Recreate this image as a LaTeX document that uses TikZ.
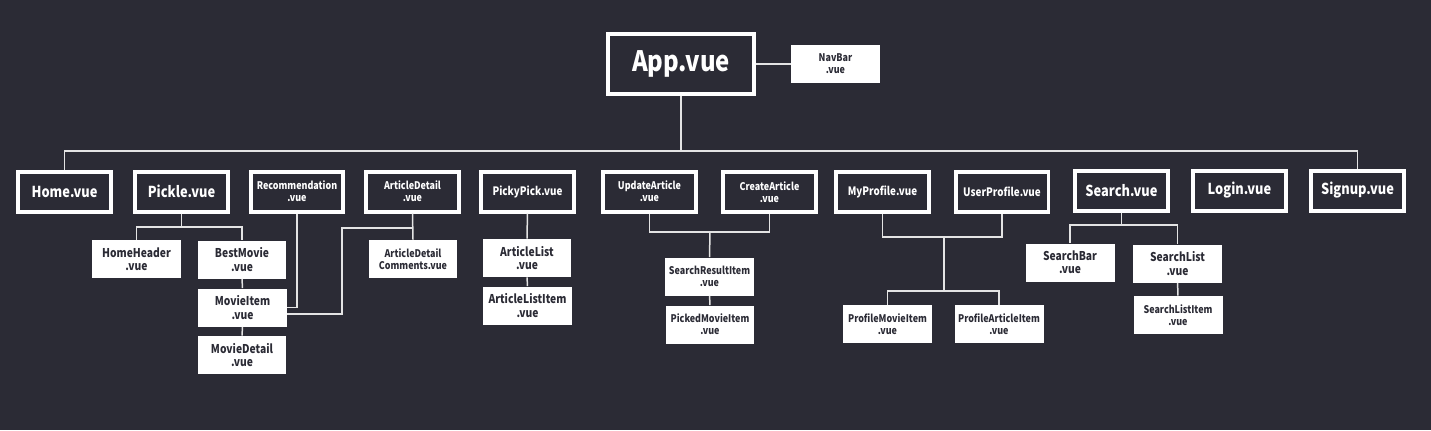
\documentclass[tikz,border=0pt]{standalone}
\usepackage{fontspec}
\setmainfont{Noto Sans CJK KR}[FakeStretch=0.85]
\usetikzlibrary{positioning}

\definecolor{bgdark}{RGB}{43,43,53}
\definecolor{wire}{RGB}{228,228,228}

\newcommand\appfont{\fontsize{16}{18}\selectfont\bfseries}
\newcommand\pagefont{\fontsize{8.6}{10}\selectfont\bfseries}
\newcommand\pagemidfont{\fontsize{6.6}{7.6}\selectfont\bfseries}
\newcommand\midfont{\fontsize{6.9}{7.6}\selectfont\bfseries}
\newcommand\xsfont{\fontsize{6.0}{6.9}\selectfont\bfseries}

\begin{document}
\begin{tikzpicture}[
    x=0.02cm, y=-0.02cm,
    page/.style={draw=white, line width=0.08cm, fill=bgdark, text=white, inner sep=0pt,
        minimum width=1.86cm, minimum height=0.80cm, align=center, font=\pagefont},
    part/.style={fill=white, text=bgdark, inner sep=0pt,
        minimum width=1.78cm, minimum height=0.76cm, align=center, font=\midfont},
    link/.style={draw=wire, line width=0.03cm}
]

    \fill[bgdark] (0,0) rectangle (1431,430);
    \useasboundingbox (0,0) rectangle (1431,430);

    % Root
    \node[page, font=\appfont, minimum width=2.92cm, minimum height=1.2cm] (App) at (681,64) {App.vue};
    \node[part, font=\xsfont] (NavBar) at (835.5,64) {NavBar\\.vue};

    % Pages
    \node[page] (Home) at (64.5,192) {Home.vue};
    \node[page] (Pickle) at (181.5,191.5) {Pickle.vue};
    \node[page, font=\xsfont] (Recommendation) at (297,191.5) {Recommendation\\.vue};
    \node[page, font=\xsfont] (ArticleDetail) at (412.5,191.5) {ArticleDetail\\.vue};
    \node[page, font=\pagemidfont] (PickyPick) at (527.5,191.5) {PickyPick.vue};
    \node[page, font=\xsfont] (UpdateArticle) at (649.5,191.5) {UpdateArticle\\.vue};
    \node[page, font=\xsfont] (CreateArticle) at (769.5,192) {CreateArticle\\.vue};
    \node[page, font=\pagemidfont] (MyProfile) at (882.5,192) {MyProfile.vue};
    \node[page, font=\pagemidfont] (UserProfile) at (1002,192) {UserProfile.vue};
    \node[page] (Search) at (1121.5,190.5) {Search.vue};
    \node[page] (Login) at (1239.5,190.5) {Login.vue};
    \node[page] (Signup) at (1357.5,190.5) {Signup.vue};

    % Components
    \node[part] (HomeHeader) at (136.5,259) {HomeHeader\\.vue};
    \node[part] (BestMovie) at (242,259.5) {BestMovie\\.vue};
    \node[part] (MovieItem) at (242.5,307.5) {MovieItem\\.vue};
    \node[part] (MovieDetail) at (242,355) {MovieDetail\\.vue};
    \node[part, font=\xsfont] (ArticleDetailComments) at (413,259) {ArticleDetail\\Comments.vue};
    \node[part] (ArticleList) at (527,258) {ArticleList\\.vue};
    \node[part] (ArticleListItem) at (527.5,305.5) {ArticleListItem\\.vue};
    \node[part, font=\xsfont] (SearchResultItem) at (709.5,276.5) {SearchResultItem\\.vue};
    \node[part, font=\xsfont] (PickedMovieItem) at (710,324.5) {PickedMovieItem\\.vue};
    \node[part, font=\xsfont] (ProfileMovieItem) at (887.5,324) {ProfileMovieItem\\.vue};
    \node[part, font=\xsfont] (ProfileArticleItem) at (999,324) {ProfileArticleItem\\.vue};
    \node[part] (SearchBar) at (1070,262.5) {SearchBar\\.vue};
    \node[part] (SearchList) at (1177.5,263.5) {SearchList\\.vue};
    \node[part, font=\xsfont] (SearchListItem) at (1178,315) {SearchListItem\\.vue};

    % Junctions
    \coordinate (bus) at (681,151);
    \coordinate (pk) at (181.5,227);
    \coordinate (ad) at (412.5,228);
    \coordinate (adk) at (342,314);
    \coordinate (uc) at (710,232);
    \coordinate (mp) at (944,237);
    \coordinate (pr) at (944,291);
    \coordinate (sr) at (1121.5,225);

    % Links
    \draw[link] (App) -- (NavBar);
    \draw[link] (App.south) -- (bus);
    \draw[link] (Home.north) |- (bus) -| (Signup.north);

    \draw[link] (Pickle.south) -- (pk);
    \draw[link] (HomeHeader.north) |- (pk) -| (BestMovie.north);
    \draw[link] (BestMovie) -- (MovieItem);
    \draw[link] (MovieItem) -- (MovieDetail);
    \draw[link] (Recommendation.south) |- (MovieItem.east);
    \draw[link] (ArticleDetail.south) -- (ArticleDetailComments.north);
    \draw[link] (ad) -| (adk) -- (adk -| MovieItem.east);

    \draw[link] (PickyPick) -- (ArticleList);
    \draw[link] (ArticleList) -- (ArticleListItem);

    \draw[link] (UpdateArticle.south) |- (uc) -| (CreateArticle.south);
    \draw[link] (uc) -- (SearchResultItem.north);
    \draw[link] (SearchResultItem) -- (PickedMovieItem);

    \draw[link] (MyProfile.south) |- (mp) -| (UserProfile.south);
    \draw[link] (mp) -- (pr);
    \draw[link] (ProfileMovieItem.north) |- (pr) -| (ProfileArticleItem.north);

    \draw[link] (Search.south) -- (sr);
    \draw[link] (SearchBar.north) |- (sr) -| (SearchList.north);
    \draw[link] (SearchList) -- (SearchListItem);

\end{tikzpicture}
\end{document}
